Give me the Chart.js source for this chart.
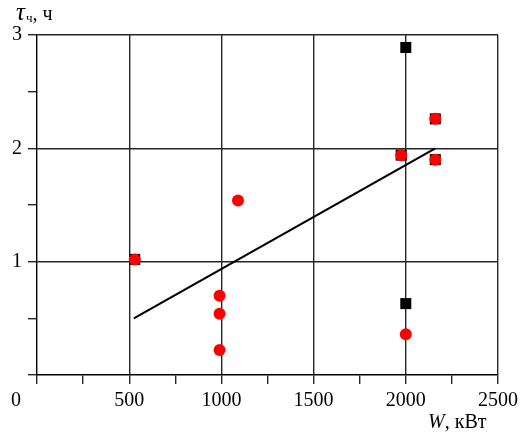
<!DOCTYPE html>
<html>
<head>
<meta charset="utf-8">
<script src="https://cdn.jsdelivr.net/npm/chart.js@4"></script>
<style>
html,body{margin:0;padding:0;background:#fff;}
#wrap{position:relative;width:524px;height:435px;}
</style>
</head>
<body>
<div id="wrap"><canvas id="c" width="524" height="435"></canvas></div>
<script>
// Data
const fitLineW = [525, 2160];
const fitLineT = [0.5, 2.0];
const squaresW = [530, 2000, 2160, 1975, 2160, 2000];
const squaresT = [1.02, 2.89, 2.26, 1.94, 1.90, 0.63];
const circlesW = [530, 1090, 990, 990, 990, 1975, 2160, 2160, 2000];
const circlesT = [1.02, 1.54, 0.70, 0.54, 0.22, 1.94, 2.26, 1.90, 0.36];
const xTickLabels = [0, 500, 1000, 1500, 2000, 2500];
const yTickLabels = [1, 2, 3];
const xTitleItalic = 'W';
const xTitleRest = ', кВт';
const yTitleSym = 'τ';
const yTitleSub = 'ч';
const yTitleRest = ', ч';

const pts = (xs, ys) => xs.map((x, i) => ({x: x, y: ys[i]}));
const FONT = 'Liberation Serif';
const GRID = '#262626';

const extras = {
  id: 'extras',
  afterDraw(chart) {
    const ctx = chart.ctx;
    const xs = chart.scales.x;
    ctx.save();
    ctx.fillStyle = '#000';
    // x "0" label shifted left of y axis
    ctx.font = '20px "' + FONT + '"';
    ctx.textAlign = 'center';
    ctx.textBaseline = 'alphabetic';
    ctx.fillText(String(xTickLabels[0]), xs.getPixelForValue(xTickLabels[0]) - 21, 406);
    // x title
    ctx.textAlign = 'left';
    ctx.font = 'italic 20px "' + FONT + '"';
    let x0 = 428, yb = 428;
    ctx.fillText(xTitleItalic, x0, yb);
    x0 += ctx.measureText(xTitleItalic).width;
    ctx.font = '20px "' + FONT + '"';
    ctx.fillText(xTitleRest, x0, yb);
    // y title
    ctx.font = 'italic 25px "' + FONT + '"';
    let y0 = 16, yb2 = 20;
    ctx.fillText(yTitleSym, y0, yb2);
    y0 += ctx.measureText(yTitleSym).width + 1;
    ctx.font = '13px "' + FONT + '"';
    ctx.fillText(yTitleSub, y0, yb2 + 2);
    y0 += ctx.measureText(yTitleSub).width;
    ctx.font = '20px "' + FONT + '"';
    ctx.fillText(yTitleRest, y0, yb2);
    ctx.restore();
  }
};

new Chart(document.getElementById('c'), {
  type: 'scatter',
  data: {
    datasets: [
      {
        type: 'scatter',
        data: pts(circlesW, circlesT),
        pointStyle: 'circle',
        pointRadius: 6,
        pointHoverRadius: 6,
        backgroundColor: '#ff0000',
        borderColor: '#ff0000',
        borderWidth: 0,
        order: 0
      },
      {
        type: 'scatter',
        data: pts(squaresW, squaresT),
        pointStyle: 'rect',
        pointRadius: 7.8,
        pointHoverRadius: 7.8,
        backgroundColor: '#000',
        borderColor: '#000',
        borderWidth: 0,
        order: 1
      },
      {
        type: 'line',
        data: pts(fitLineW, fitLineT),
        borderColor: '#000',
        borderWidth: 2.2,
        pointRadius: 0,
        fill: false,
        tension: 0,
        order: 2
      }
    ]
  },
  options: {
    responsive: false,
    animation: false,
    devicePixelRatio: 1,
    layout: {padding: {top: 35, right: 26, bottom: 0, left: 0}},
    plugins: {legend: {display: false}, tooltip: {enabled: false}},
    scales: {
      x: {
        type: 'linear',
        min: 0, max: 2500,
        afterFit(s) { s.height = 60; },
        ticks: {
          stepSize: 250,
          autoSkip: false,
          maxRotation: 0,
          padding: 5,
          color: '#000',
          font: {family: FONT, size: 20},
          callback: v => (v % 500 === 0 && v !== 0) ? String(v) : ''
        },
        grid: {
          color: c => (c.tick && c.tick.value % 500 === 0 && c.tick.value !== 0) ? GRID : 'rgba(0,0,0,0)',
          tickColor: GRID,
          lineWidth: 1.4,
          tickLength: 9,
          drawTicks: true
        },
        border: {display: true, color: '#000', width: 1.4}
      },
      y: {
        type: 'linear',
        min: 0, max: 3,
        afterFit(s) { s.width = 37; },
        ticks: {
          stepSize: 0.5,
          autoSkip: false,
          padding: 6,
          color: '#000',
          font: {family: FONT, size: 20},
          callback: v => (Number.isInteger(v) && v !== 0) ? String(v) : ''
        },
        grid: {
          color: c => (c.tick && Number.isInteger(c.tick.value) && c.tick.value !== 0) ? GRID : 'rgba(0,0,0,0)',
          tickColor: GRID,
          lineWidth: 1.4,
          tickLength: 9,
          drawTicks: true
        },
        border: {display: true, color: '#000', width: 1.4}
      }
    }
  },
  plugins: [extras]
});
</script>
</body>
</html>
